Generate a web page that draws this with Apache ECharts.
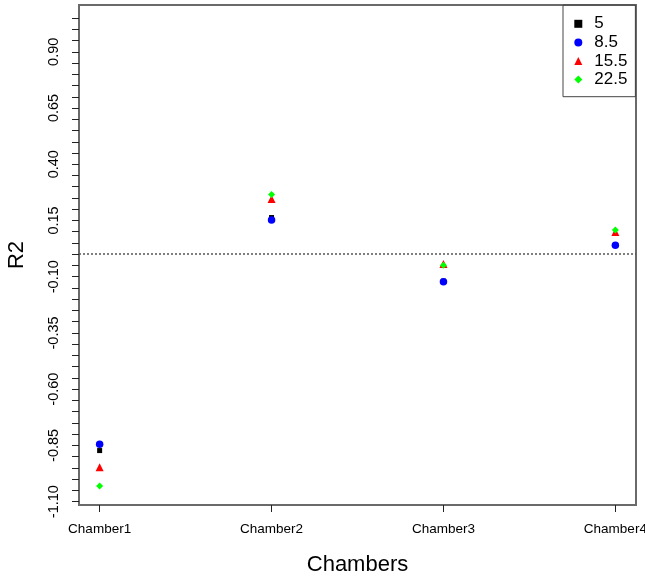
<!DOCTYPE html>
<html>
<head>
<meta charset="utf-8">
<script src="https://cdn.jsdelivr.net/npm/echarts@6/dist/echarts.min.js"></script>
<style>
  html, body { margin: 0; padding: 0; background: #fff; }
  #chart { width: 645px; height: 576px; }
</style>
</head>
<body>
<div id="chart"></div>
<script>
const categories = ['Chamber1', 'Chamber2', 'Chamber3', 'Chamber4'];
const groups = ['5', '8.5', '15.5', '22.5'];
const r2_5 = [-0.873, 0.163, -0.12, 0.04];
const r2_85 = [-0.845, 0.152, -0.122, 0.04];
const r2_155 = [-0.947, 0.245, -0.044, 0.099];
const r2_225 = [-1.03, 0.266, -0.049, 0.108];
const yLabelValues = [-1.10, -0.85, -0.60, -0.35, -0.10, 0.15, 0.40, 0.65, 0.90];

// minor ticks every 0.05 from -1.10 up to 1.05
const yTickValues = [];
for (let i = 0; i <= 43; i++) yTickValues.push(Math.round((-1.10 + i * 0.05) * 100) / 100);

const font = 'Liberation Sans, Arial, sans-serif';
const chartDom = document.getElementById('chart');
const myChart = echarts.init(chartDom);

function pts(vals) {
  return vals.map((v, i) => [i + 1, v]);
}

const option = {
  animation: false,
  grid: {
    left: 79, right: 9, top: 5, bottom: 71,
    outerBoundsMode: 'none', containLabel: false,
    show: true, borderColor: '#6a6a6a', borderWidth: 2, backgroundColor: 'transparent'
  },
  legend: {
    orient: 'vertical',
    left: 563, top: 5,
    padding: [10.3, 8, 8.6, 11.3],
    borderColor: '#444', borderWidth: 1,
    itemWidth: 8, itemHeight: 8, itemGap: 1.6,
    textStyle: { fontFamily: font, fontSize: 17, color: '#000', lineHeight: 16, padding: [0, 0, 0, 7] },
    data: [
      { name: groups[0], icon: 'rect' },
      { name: groups[1], icon: 'circle' },
      { name: groups[2], icon: 'triangle' },
      { name: groups[3], icon: 'diamond' }
    ]
  },
  xAxis: {
    type: 'value', min: 0.88, max: 4.12,
    name: 'Chambers', nameLocation: 'middle', nameGap: 49,
    nameTextStyle: { fontFamily: font, fontSize: 22, color: '#000' },
    axisLine: { show: false, onZero: false },
    axisTick: { show: true, length: 7, lineStyle: { color: '#222' }, customValues: [1, 2, 3, 4] },
    axisLabel: {
      fontFamily: font, fontSize: 13.5, color: '#000', margin: 17,
      customValues: [1, 2, 3, 4],
      formatter: v => categories[Math.round(v) - 1]
    },
    splitLine: { show: false }
  },
  yAxis: {
    type: 'value', min: -1.115, max: 1.108,
    name: 'R2', nameLocation: 'middle', nameGap: 51, nameRotate: 90,
    nameTextStyle: { fontFamily: font, fontSize: 22, color: '#000' },
    axisLine: { show: false, onZero: false },
    axisTick: { show: true, length: 7, lineStyle: { color: '#222' }, customValues: yTickValues },
    axisLabel: {
      fontFamily: font, fontSize: 14.5, color: '#000', margin: 18, rotate: 90,
      customValues: yLabelValues,
      formatter: v => v.toFixed(2)
    },
    splitLine: { show: false }
  },
  series: [
    {
      name: groups[0], type: 'scatter', symbol: 'rect', symbolSize: 5,
      itemStyle: { color: '#000000', opacity: 1 }, data: pts(r2_5),
      markLine: {
        silent: true, symbol: ['none', 'none'], label: { show: false },
        lineStyle: { type: [2, 2], color: '#555', width: 1.5 },
        data: [{ yAxis: 0 }]
      }
    },
    { name: groups[1], type: 'scatter', symbol: 'circle', symbolSize: 7.5, itemStyle: { color: '#0000ff', opacity: 1 }, data: pts(r2_85) },
    { name: groups[2], type: 'scatter', symbol: 'triangle', symbolSize: 8, itemStyle: { color: '#ff0000', opacity: 1 }, data: pts(r2_155) },
    { name: groups[3], type: 'scatter', symbol: 'diamond', symbolSize: 7, itemStyle: { color: '#00ff00', opacity: 1 }, data: pts(r2_225) }
  ]
};
option && myChart.setOption(option);
</script>
</body>
</html>
